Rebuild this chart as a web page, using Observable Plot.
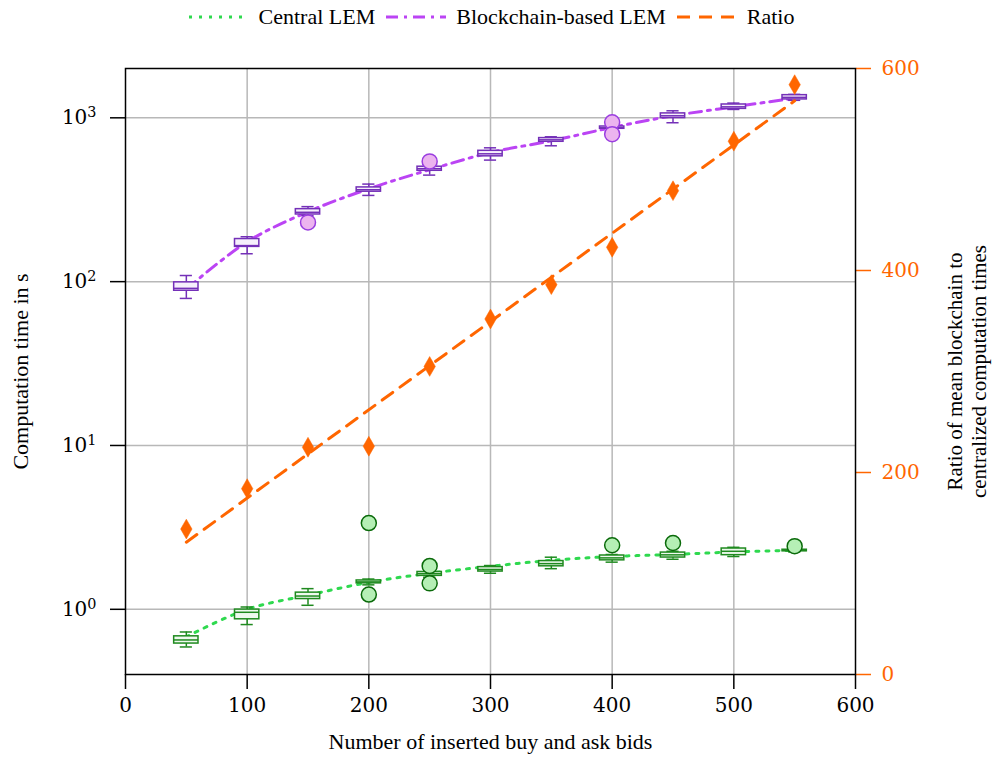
<!DOCTYPE html>
<html>
<head>
<meta charset="utf-8">
<script src="https://cdn.jsdelivr.net/npm/d3@7"></script>
<script src="https://cdn.jsdelivr.net/npm/@observablehq/plot@0.6"></script>
<style>
  body { margin: 0; background: white; }
  #legend { height: 34px; width: 994px; display: flex; align-items: center; justify-content: center;
            font-family: "Liberation Serif", serif; font-size: 22px; color: #000; padding-right: 12px; box-sizing: border-box; }
  #legend .item { display: flex; align-items: center; margin: 0 5px; }
  #legend svg { margin-right: 9px; }
</style>
</head>
<body>
<div id="legend"></div>
<div id="chart"></div>
<script>
// ---------- data ----------
const bids = [50, 100, 150, 200, 250, 300, 350, 400, 450, 500, 550];

// Blockchain-based LEM (seconds)
const bcWhiskerLow  = [79, 148, 253, 336, 447, 552, 675, 833, 933, 1125, 1279];
const bcQ1          = [88, 163, 257, 354, 475, 582, 714, 857, 996, 1134, 1295];
const bcMedian      = [91, 166, 265, 364, 489, 603, 734, 869, 1029, 1167, 1333];
const bcQ3          = [99, 182, 277, 376, 503, 629, 752, 885, 1064, 1206, 1375];
const bcWhiskerHigh = [109, 188, 287, 394, 517, 656, 766, 906, 1104, 1230, 1390];
const bcMean        = [90, 175, 267, 369, 482, 614, 724, 873, 1029, 1167, 1318];
const bcOutlierX    = [150, 250, 400, 400];
const bcOutlierY    = [230, 542, 940, 795];

// Central LEM (seconds)
const ctWhiskerLow  = [0.589, 0.807, 1.058, 1.41, 1.57, 1.66, 1.77, 1.94, 2.02, 2.10, 2.24];
const ctQ1          = [0.618, 0.869, 1.155, 1.44, 1.60, 1.70, 1.83, 1.99, 2.07, 2.14, 2.26];
const ctMedian      = [0.650, 0.959, 1.205, 1.47, 1.65, 1.75, 1.90, 2.06, 2.15, 2.26, 2.29];
const ctQ3          = [0.684, 0.996, 1.264, 1.50, 1.69, 1.81, 1.97, 2.13, 2.22, 2.35, 2.31];
const ctWhiskerHigh = [0.727, 1.033, 1.337, 1.53, 1.72, 1.85, 2.08, 2.16, 2.26, 2.39, 2.33];
const ctMean        = [0.68, 1.00, 1.22, 1.46, 1.66, 1.83, 1.99, 2.10, 2.16, 2.24, 2.29];
const ctOutlierX    = [200, 200, 250, 250, 400, 450, 550];
const ctOutlierY    = [3.36, 1.23, 1.84, 1.44, 2.46, 2.54, 2.43];

// Ratio of mean blockchain to centralized computation times
const ratio     = [144, 184, 225, 226, 305, 352, 386, 423, 479, 528, 584];
const ratioFitX = [50, 550];
const ratioFitY = [131, 568];

// axes
const xTicks = [0, 100, 200, 300, 400, 500, 600];
const xGrid = [100, 200, 300, 400, 500];
const yTicks = [1, 10, 100, 1000];
const yTickExp = ["0", "1", "2", "3"];
const ratioTicks = [0, 200, 400, 600];
const yDomain = [0.4, 2000];
const ratioDomain = [0, 600];

// colors
const green = "#2fd94f", greenDark = "#1f8a1f", greenFill = "#b5efb5", greenOut = "#0a6a0a";
const purple = "#bb44f4", purpleDark = "#7430b8", purpleFill = "#ecb4ef", purpleOut = "#9a3ee0";
const orange = "#ff6600";

// ---------- helpers ----------
// map ratio values (linear, right axis) onto the log y scale
const lo = Math.log(yDomain[0]), hi = Math.log(yDomain[1]);
const toY = r => Math.exp(lo + (r - ratioDomain[0]) / (ratioDomain[1] - ratioDomain[0]) * (hi - lo));

const W = 10, C = 5; // box half-width and cap half-width (x units)
function boxes(lowW, q1, med, q3, highW) {
  return bids.map((x, i) => ({x, x1: x - W, x2: x + W, c1: x - C, c2: x + C,
    lw: lowW[i], q1: q1[i], med: med[i], q3: q3[i], hw: highW[i]}));
}
const bcBoxes = boxes(bcWhiskerLow, bcQ1, bcMedian, bcQ3, bcWhiskerHigh);
const ctBoxes = boxes(ctWhiskerLow, ctQ1, ctMedian, ctQ3, ctWhiskerHigh);

function boxMarks(data, stroke, fill) {
  return [
    Plot.ruleX(data, {x: "x", y1: "lw", y2: "q1", stroke, strokeWidth: 1.5}),
    Plot.ruleX(data, {x: "x", y1: "q3", y2: "hw", stroke, strokeWidth: 1.5}),
    Plot.ruleY(data, {y: "lw", x1: "c1", x2: "c2", stroke, strokeWidth: 1.5}),
    Plot.ruleY(data, {y: "hw", x1: "c1", x2: "c2", stroke, strokeWidth: 1.5}),
    Plot.rect(data, {x1: "x1", x2: "x2", y1: "q1", y2: "q3", fill, stroke, strokeWidth: 1.5}),
    Plot.ruleY(data, {y: "med", x1: "x1", x2: "x2", stroke, strokeWidth: 1.5})
  ];
}

const ctLine = bids.map((x, i) => ({x, y: ctMean[i]}));
const bcLine = bids.map((x, i) => ({x, y: bcMean[i]}));
const ratioPts = bids.map((x, i) => ({x, y: toY(ratio[i])}));
const ratioFit = ratioFitX.map((x, i) => ({x, y: toY(ratioFitY[i])}));
const ctOut = ctOutlierX.map((x, i) => ({x, y: ctOutlierY[i]}));
const bcOut = bcOutlierX.map((x, i) => ({x, y: bcOutlierY[i]}));

const chart = Plot.plot({
  width: 994,
  height: 729,
  marginTop: 34,
  marginBottom: 89,
  marginLeft: 125,
  marginRight: 139,
  style: {fontFamily: "DejaVu Serif", fontSize: "20px", background: "white", color: "black"},
  x: {domain: [0, 600]},
  y: {type: "log", domain: yDomain},
  marks: [
    Plot.gridX(xGrid, {stroke: "#b8b8b8", strokeOpacity: 1, strokeWidth: 1.5}),
    Plot.gridY(yTicks, {stroke: "#b8b8b8", strokeOpacity: 1, strokeWidth: 1.5}),
    Plot.axisX(xTicks, {anchor: "bottom", tickSize: 15, tickPadding: 8, strokeWidth: 1.5, label: null,
      fontSize: 20, tickFormat: d => String(d)}),
    Plot.axisY(yTicks, {anchor: "left", tickSize: 15, tickPadding: 14, strokeWidth: 1.5, label: null,
      fontSize: 20, tickFormat: d => "10^" + yTickExp[yTicks.indexOf(d)]}),
    Plot.axisY(ratioTicks.map(toY), {anchor: "right", tickSize: 15, strokeWidth: 1.5, label: null,
      stroke: orange, tickFormat: () => null}),
    Plot.text(ratioTicks, {y: r => toY(r), text: r => String(r), frameAnchor: "right", dx: 26,
      textAnchor: "start", fill: orange, fontSize: 20}),
    Plot.line(ctLine, {x: "x", y: "y", stroke: green, strokeWidth: 3, strokeDasharray: "3,7", curve: "catmull-rom"}),
    Plot.line(bcLine, {x: "x", y: "y", stroke: purple, strokeWidth: 3, strokeDasharray: "12,6,3,6", curve: "catmull-rom"}),
    ...boxMarks(ctBoxes, greenDark, "#eef9ee"),
    ...boxMarks(bcBoxes, purpleDark, "#f6effc"),
    Plot.line(ratioFit, {x: "x", y: "y", stroke: orange, strokeWidth: 3, strokeDasharray: "13,9"}),
    Plot.dot(ctOut, {x: "x", y: "y", r: 7.5, fill: greenFill, stroke: greenOut, strokeWidth: 1.5}),
    Plot.dot(bcOut, {x: "x", y: "y", r: 7.5, fill: purpleFill, stroke: purpleOut, strokeWidth: 1.5}),
    Plot.dot(ratioPts, {x: "x", y: "y", symbol: "diamond", r: 6, fill: orange, stroke: orange, strokeWidth: 0.5}),
    Plot.frame({stroke: "black", strokeWidth: 1.5}),
    Plot.text(["Number of inserted buy and ask bids"], {frameAnchor: "bottom", dy: 74, textAnchor: "middle",
      fontFamily: "Liberation Serif", fontSize: 22}),
    Plot.text(["Computation time in s"], {frameAnchor: "left", dx: -105, rotate: -90, textAnchor: "middle",
      fontFamily: "Liberation Serif", fontSize: 22}),
    Plot.text(["Ratio of mean blockchain to\ncentralized computation times"], {frameAnchor: "right", dx: 111, rotate: -90,
      textAnchor: "middle", lineHeight: 1.15, fontFamily: "Liberation Serif", fontSize: 21})
  ]
});
document.getElementById("chart").appendChild(chart);

// render "10^n" tick labels with a real superscript
d3.select(chart).selectAll("text").each(function() {
  const m = /^10\^(\d)$/.exec(this.textContent);
  if (!m) return;
  const el = d3.select(this);
  el.text("10");
  el.append("tspan").attr("dy", "-0.5em").attr("font-size", "0.72em").text(m[1]);
});

// ---------- legend ----------
const legendItems = [
  {label: "Central LEM", color: green, dash: "3,7"},
  {label: "Blockchain-based LEM", color: purple, dash: "12,6,3,6"},
  {label: "Ratio", color: orange, dash: "13,9"}
];
const legend = document.getElementById("legend");
legendItems.forEach(it => {
  const div = document.createElement("div");
  div.className = "item";
  div.innerHTML = `<svg width="62" height="10"><line x1="1" y1="5" x2="61" y2="5" stroke="${it.color}" stroke-width="3" stroke-dasharray="${it.dash}"/></svg><span>${it.label}</span>`;
  legend.appendChild(div);
});
</script>
</body>
</html>
